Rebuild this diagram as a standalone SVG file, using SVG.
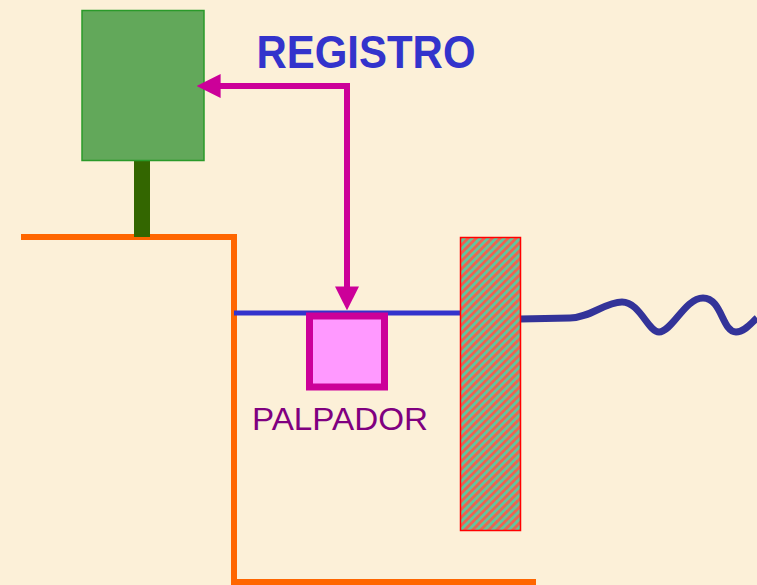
<svg xmlns="http://www.w3.org/2000/svg" width="757" height="585" viewBox="0 0 757 585">
<style>
.orange{fill:none;stroke:#ff6600;stroke-width:6}
.mag{fill:none;stroke:#cc0099;stroke-width:6}
</style>
<defs>
<pattern id="hatch" width="5.66" height="5.66" patternUnits="userSpaceOnUse" patternTransform="rotate(45)">
<rect width="5.66" height="5.66" fill="#5cc8a0"/>
<rect width="2.83" height="5.66" fill="#f06050"/>
</pattern>
<marker id="ah" viewBox="0 0 10 10" refX="4" refY="5" markerWidth="4" markerHeight="4" orient="auto" markerUnits="strokeWidth">
<path d="M0,0 L10,5 L0,10 z" fill="#cc0099"/>
</marker>
</defs>
<rect width="757" height="585" fill="#fcf0d8"/>
<g id="frame">
<path class="orange" d="M21,237 H234 V582 H536"/>
</g>
<g id="registro-box">
<rect x="134" y="160" width="16" height="77" fill="#336600"/>
<rect x="82" y="10.5" width="122" height="150" fill="#62a85a" stroke="#2a9a2a" stroke-width="1.5"/>
</g>
<g id="registro-label">
<text x="366" y="68" font-family="Liberation Sans, Arial, sans-serif" font-weight="bold" font-size="46" fill="#3333cc" text-anchor="middle" textLength="219" lengthAdjust="spacingAndGlyphs">REGISTRO</text>
</g>
<g id="connectors">
<path class="mag" d="M350,86 H211" marker-end="url(#ah)"/>
<path class="mag" d="M347,83 V296" marker-end="url(#ah)"/>
<path d="M234,313 H460" fill="none" stroke="#3333cc" stroke-width="5"/>
<path d="M520,319 L570,318 C590,318 605,302 622,302 C640,302 648,332 659,332 C672,332 685,298 703,298 C722,298 722,332 736,332 C745,332 752,322 757,318" fill="none" stroke="#333399" stroke-width="7"/>
</g>
<g id="palpador">
<rect x="309.5" y="316" width="75" height="71" fill="#ff99ff" stroke="#cc0099" stroke-width="7"/>
<text x="340" y="430" font-family="Liberation Sans, Arial, sans-serif" font-size="32" fill="#800080" text-anchor="middle" textLength="176" lengthAdjust="spacingAndGlyphs">PALPADOR</text>
</g>
<g id="wall">
<rect x="460.5" y="237.5" width="60" height="293" fill="url(#hatch)" stroke="#ff0000" stroke-width="1.5"/>
</g>
</svg>
